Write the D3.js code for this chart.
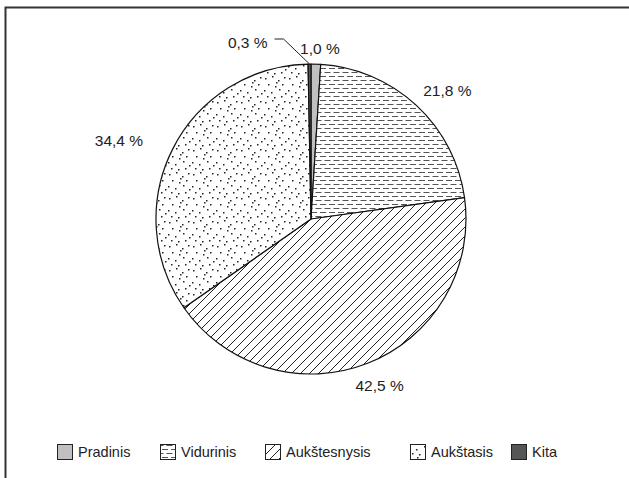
<!DOCTYPE html>
<html><head><meta charset="utf-8">
<script src="https://cdn.jsdelivr.net/npm/d3@7"></script>
<style>
html,body{margin:0;background:#fff;overflow:hidden;}
svg{display:block;font-family:"Liberation Sans",Arial,sans-serif;}
</style></head>
<body><svg id="c" width="629" height="478"></svg>
<script>
const categories = ["Pradinis","Vidurinis","Aukštesnysis","Aukštasis","Kita"];
const values = [1.0, 21.8, 42.5, 34.4, 0.3];
const labels = ["1,0 %","21,8 %","42,5 %","34,4 %","0,3 %"];

const svg = d3.select("#c");
const W = 629, H = 478;
const cx = 311, cy = 219, R = 155;

// frame: only the top and left edges fall inside the picture
svg.append("path").attr("d",`M5.5,${H} L5.5,7.5 L${W},7.5`)
  .attr("fill","none").attr("stroke","#333").attr("stroke-width",2);

const defs = svg.append("defs");
const pv = defs.append("pattern").attr("id","pv").attr("patternUnits","userSpaceOnUse")
  .attr("width",9).attr("height",8);
pv.append("rect").attr("width",9).attr("height",8).attr("fill","#fff");
pv.append("line").attr("x1",0).attr("x2",6).attr("y1",1.5).attr("y2",1.5).attr("stroke","#555").attr("stroke-width",1);
pv.append("line").attr("x1",4.5).attr("x2",10.5).attr("y1",5.5).attr("y2",5.5).attr("stroke","#555").attr("stroke-width",1);
pv.append("line").attr("x1",-4.5).attr("x2",1.5).attr("y1",5.5).attr("y2",5.5).attr("stroke","#555").attr("stroke-width",1);
const pa = defs.append("pattern").attr("id","pa").attr("patternUnits","userSpaceOnUse")
  .attr("width",9).attr("height",9);
pa.append("rect").attr("width",9).attr("height",9).attr("fill","#fff");
pa.append("path").attr("d","M-1,10 L10,-1 M-2,2 L2,-2 M7,11 L11,7").attr("stroke","#222").attr("stroke-width",1);
const pd = defs.append("pattern").attr("id","pd").attr("patternUnits","userSpaceOnUse")
  .attr("width",24).attr("height",24);
pd.append("rect").attr("width",24).attr("height",24).attr("fill","#fff");
const dots = [[2,3],[9,1],[15,5],[21,2],[5,9],[12,11],[19,9],[1,15],[8,17],[16,14],[22,18],[4,21],[11,22],[18,21],[13,7]];
dots.forEach(d=>pd.append("rect").attr("x",d[0]).attr("y",d[1]).attr("width",1.5).attr("height",1.5).attr("fill","#222"));

const fills = ["#c0c0c0","url(#pv)","url(#pa)","url(#pd)","#555"];

const pie = d3.pie().sort(null).value(d=>d)(values);
const arc = d3.arc().innerRadius(0).outerRadius(R);
const g = svg.append("g").attr("transform",`translate(${cx},${cy})`);
g.selectAll("path.s").data(pie).join("path").attr("class","s")
  .attr("d",arc).attr("fill",(d,i)=>fills[i]).attr("stroke","#111").attr("stroke-width",1.2)
  .attr("stroke-linejoin","round");

// labels: anchored at the slice's mid-angle on the rim, then nudged
const labelLayout = [
  {anchor:"middle", dx:4, dy:-16},
  {anchor:"middle", dx:31, dy:-15},
  {anchor:"middle", dx:12, dy:22},
  {anchor:"middle", dx:-54, dy:-8},
  {anchor:"end", dx:-42, dy:-21}
];
const rimPt = d => { const a=(d.startAngle+d.endAngle)/2; return [Math.sin(a)*R, -Math.cos(a)*R]; };
pie.forEach((d,i)=>{
  const L = labelLayout[i];
  const [px,py] = rimPt(d);
  g.append("text").attr("x",px+L.dx).attr("y",py+L.dy).attr("dy","0.35em")
    .attr("text-anchor",L.anchor).attr("font-size",15.5).attr("fill","#222").text(labels[i]);
});
// leader line for the small slice
{
  const [px,py] = rimPt(pie[4]);
  const L = labelLayout[4];
  const lx = px+L.dx+7, ly = py+L.dy-4;
  g.append("polyline").attr("points",`${lx},${ly} ${lx+9},${ly} ${px},${py}`)
    .attr("fill","none").attr("stroke","#222").attr("stroke-width",1);
}

// legend
const legendX = [57,160,265,410,511];
const lg = svg.append("g");
categories.forEach((c,i)=>{
  const x = legendX[i];
  lg.append("rect").attr("x",x+0.5).attr("y",444.5).attr("width",15).attr("height",15)
    .attr("fill",fills[i]).attr("stroke","#222").attr("stroke-width",1);
  lg.append("text").attr("x",x+21).attr("y",452).attr("dy","0.35em").attr("font-size",14.5)
    .attr("fill","#222").text(c);
});
</script></body></html>
